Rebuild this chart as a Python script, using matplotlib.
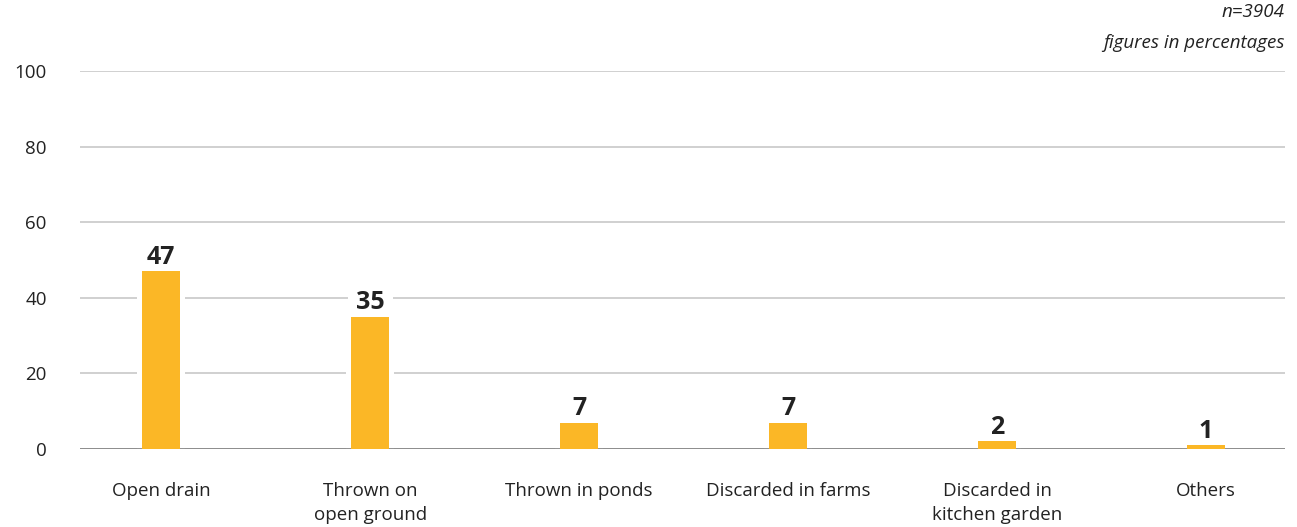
import numpy as np
import matplotlib.pyplot as plt

plt.rcParams['font.family'] = ['Open Sans', 'DejaVu Sans']

categories = ["Open drain", "Thrown on\nopen ground", "Thrown in ponds",
              "Discarded in farms", "Discarded in\nkitchen garden", "Others"]
values = [47, 35, 7, 7, 2, 1]
yticks = [0, 20, 40, 60, 80, 100]

bar_color = "#FBB726"
text_color = "#222222"

fig = plt.figure(figsize=(12.97, 5.27), dpi=100)
ax = fig.add_axes([80 / 1297, 78 / 527, 1205 / 1297, 378 / 527])

x = np.arange(len(categories))
bar_w = 0.18

# white backing so gridlines break around each bar
ax.bar(x, values, width=bar_w + 0.05, color="white", zorder=2)
ax.bar(x, values, width=bar_w, color=bar_color, zorder=4)
ax.axhline(0, color="#888888", lw=1.3, zorder=3.5)

for xi, v in zip(x, values):
    ax.annotate(str(v), (xi, v), xytext=(0, 1), textcoords="offset points",
                ha="center", va="bottom", fontsize=18, fontweight="bold",
                color=text_color, zorder=3,
                bbox=dict(boxstyle="square,pad=0.33", fc="white", ec="none"))

ax.set_xlim(-0.388, 5.378)
ax.set_ylim(0, 100)
ax.set_yticks(yticks)
ax.set_xticks(x)
ax.set_xticklabels(categories, linespacing=1.4)
ax.grid(axis="y", color="#c4c4c4", lw=1.1, zorder=1)
ax.set_axisbelow(True)
ax.tick_params(axis="y", length=0, pad=24, labelsize=13.5, labelcolor=text_color)
ax.tick_params(axis="x", length=0, pad=24, labelsize=13.5, labelcolor=text_color)
for s in ax.spines.values():
    s.set_visible(False)

fig.text(1285 / 1297, 1 - 12 / 527, "n=3904", ha="right", va="center",
         fontsize=13.5, style="italic", color=text_color)
fig.text(1285 / 1297, 1 - 43 / 527, "figures in percentages", ha="right",
         va="center", fontsize=13.5, style="italic", color=text_color)

fig.savefig("out.png", dpi=100, facecolor="white")
